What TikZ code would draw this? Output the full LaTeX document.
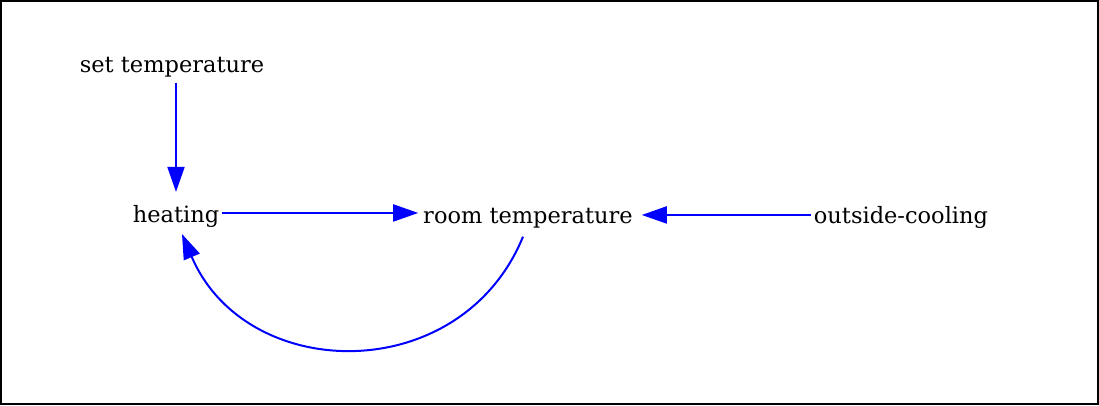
\documentclass[tikz,border=0pt]{standalone}
\usepackage{fontspec}
\setmainfont{DejaVu Serif}
\usetikzlibrary{arrows.meta}
\tikzset{
  lbl/.style={inner sep=0pt, outer sep=0pt, anchor=base, font=\fontsize{22.5}{26}\selectfont, text=black},
  arr/.style={draw=blue, line width=2pt, -{Triangle[length=25pt,width=17pt]}},
}
\begin{document}
\begin{tikzpicture}[x=1pt,y=-1pt]
\useasboundingbox (0,0) rectangle (1099,405);
\draw[line width=2pt] (1,1) rectangle (1098,404);
\node[lbl] (set) at (172,72) {set temperature};
\node[lbl] (heating) at (176,222) {heating};
\node[lbl] (room) at (528,223) {room temperature};
\node[lbl] (outside) at (901,223) {outside-cooling};
\draw[arr, shorten <=6pt, shorten >=13pt] (set.south -| heating.north) -- (heating.north);
\draw[arr, shorten <=3pt, shorten >=5pt] ([yshift=3pt]heating.east) -- ([yshift=3pt]room.west |- heating.east);
\draw[arr, shorten <=3pt, shorten >=9pt] ([yshift=2pt]outside.west) -- ([yshift=2pt]room.east |- outside.west);
\draw[arr] ([shift={(-5pt,-9pt)}]room.south) .. controls +(-62,151) and +(64,150) .. ([shift={(6pt,-7pt)}]heating.south);
\end{tikzpicture}
\end{document}
